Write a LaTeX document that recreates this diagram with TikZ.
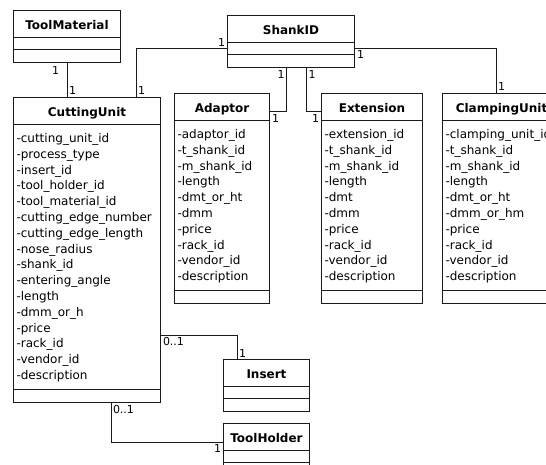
\documentclass[tikz,border=0pt]{standalone}
\usepackage{fontspec}
\setmainfont{DejaVu Sans}
\usetikzlibrary{positioning,calc,shapes.multipart}
\definecolor{UMLLine}{HTML}{1A1A1A}
\newcommand{\umltitle}[1]{\makebox[\linewidth][c]{\rule[-5.5pt]{0pt}{22pt}\textbf{#1}}}
\newcommand{\umlattrs}[1]{\rule{0pt}{15.5pt}#1\rule[-7.5pt]{0pt}{0pt}}
\newcommand{\umlempty}[1]{\rule{0pt}{#1}}

\begin{document}
\begin{tikzpicture}[x=1pt,y=-1pt,every node/.style={font=\fontsize{12}{15.8}\selectfont}, umlclass/.style={draw=UMLLine, line width=1pt, fill=white, rectangle split, rectangle split parts=3, inner xsep=3pt, inner ysep=2pt, align=left, anchor=north west}, mult/.style={inner sep=1.5pt, font=\fontsize{11}{13}\selectfont}, link/.style={draw=UMLLine, line width=1pt}]
        \useasboundingbox (0,0) rectangle (546,465);
        \node[umlclass, text width=101pt] (tm) at (13,10) {\umltitle{ToolMaterial}\nodepart{two}\umlempty{7pt}\nodepart{three}\umlempty{8pt}};
        \node[umlclass, text width=121pt] (shank) at (227,15) {\umltitle{ShankID}\nodepart{two}\umlempty{7pt}\nodepart{three}\umlempty{8pt}};
        \node[umlclass, text width=141pt] (cut) at (13,97) {\umltitle{CuttingUnit}\nodepart{two}\umlattrs{-cutting\_unit\_id\\-process\_type\\-insert\_id\\-tool\_holder\_id\\-tool\_material\_id\\-cutting\_edge\_number\\-cutting\_edge\_length\\-nose\_radius\\-shank\_id\\-entering\_angle\\-length\\-dmm\_or\_h\\-price\\-rack\_id\\-vendor\_id\\-description}\nodepart{three}\umlempty{8pt}};
        \node[umlclass, text width=89pt] (ada) at (174,93) {\umltitle{Adaptor}\nodepart{two}\umlattrs{-adaptor\_id\\-t\_shank\_id\\-m\_shank\_id\\-length\\-dmt\_or\_ht\\-dmm\\-price\\-rack\_id\\-vendor\_id\\-description}\nodepart{three}\umlempty{8pt}};
        \node[umlclass, text width=95pt] (ext) at (321,93) {\umltitle{Extension}\nodepart{two}\umlattrs{-extension\_id\\-t\_shank\_id\\-m\_shank\_id\\-length\\-dmt\\-dmm\\-price\\-rack\_id\\-vendor\_id\\-description}\nodepart{three}\umlempty{8pt}};
        \node[umlclass, text width=112pt] (clamp) at (442,93) {\umltitle{ClampingUnit}\nodepart{two}\umlattrs{-clamping\_unit\_id\\-t\_shank\_id\\-m\_shank\_id\\-length\\-dmt\_or\_ht\\-dmm\_or\_hm\\-price\\-rack\_id\\-vendor\_id\\-description}\nodepart{three}\umlempty{8pt}};
        \node[umlclass, text width=80pt] (ins) at (223,359) {\umltitle{Insert}\nodepart{two}\umlempty{7pt}\nodepart{three}\umlempty{8pt}};
        \node[umlclass, text width=80pt] (th) at (223,423) {\umltitle{ToolHolder}\nodepart{two}\umlempty{7pt}\nodepart{three}\umlempty{8pt}};
        \coordinate (shankL) at ($(shank.text split west)!0.5!(shank.two split west)$);
        \coordinate (shankR) at ($(shank.text split east)!0.5!(shank.two split east)$);
        \draw[link] (tm.south) -- (tm.south |- cut.north) node[mult, pos=0, below left=1pt and 6pt] {1} node[mult, pos=1, above right] {1};
        \draw[link] (shankL) -| ([xshift=-25pt]cut.north east) node[mult, pos=0, above left] {1} node[mult, pos=1, above right] {1};
        \draw[link] ([xshift=-4.5pt]shank.south) |- ([yshift=-19pt]ada.north east) node[mult, pos=0, below left] {1} node[mult, pos=1, below right] {1};
        \draw[link] ([xshift=15.5pt]shank.south) |- ([yshift=-19pt]ext.north west) node[mult, pos=0, below right] {1} node[mult, pos=1, below left] {1};
        \draw[link] (shankR) -| ([xshift=54pt]clamp.north west) node[mult, pos=0, below right] {1} node[mult, pos=1, above right] {1};
        \draw[link] ([yshift=68pt]cut.south east) -| ([xshift=14pt]ins.north west) node[mult, pos=0, below right] {0..1} node[mult, pos=1, above right] {1};
        \draw[link] ([xshift=98pt]cut.south west) |- ([yshift=-19pt]th.north west) node[mult, pos=0, below right] {0..1} node[mult, pos=1, below left] {1};
    \end{tikzpicture}
\end{document}
